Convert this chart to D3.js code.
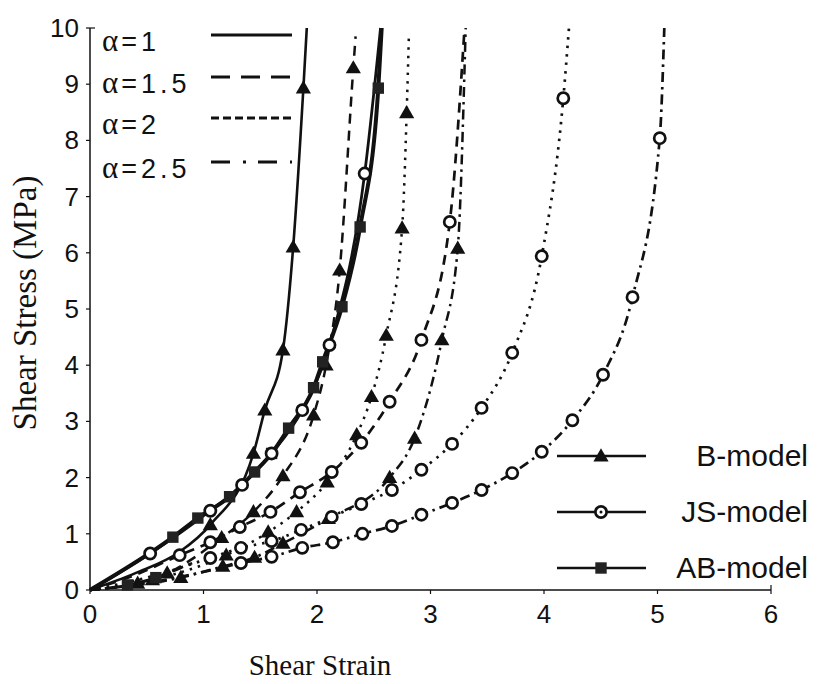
<!DOCTYPE html>
<html><head><meta charset="utf-8">
<script src="https://cdn.jsdelivr.net/npm/d3@7"></script>
<style>body{margin:0;background:#fff}svg{display:block}</style>
</head><body>
<svg id="c" width="822" height="684"></svg>
<script>
// ---- data ----
const xTicks = [0,1,2,3,4,5,6];
const yTicks = [0,1,2,3,4,5,6,7,8,9,10];
const alphaLabels = ["1","1.5","2","2.5"];
const modelLabels = ["B-model","JS-model","AB-model"];

// B-model (triangles)
const B_a1_pts  = [[1.06,1.16],[1.44,2.43],[1.54,3.2],[1.70,4.27],[1.79,6.1],[1.88,8.93]];
const B_a1_path = [[0,0],[0.4,0.3],[0.79,0.68]];
const B_a1_end  = [1.91,10];
const B_a15_pts  = [[0.42,0.12],[0.68,0.3],[1.16,0.93],[1.44,1.39],[1.70,2.03],[1.97,3.11],[2.08,4.0],[2.2,5.69],[2.32,9.29]];
const B_a15_path = [[0,0]];
const B_a15_end  = [2.34,9.85];
const B_a2_pts  = [[0.55,0.18],[1.2,0.62],[1.57,1.03],[1.82,1.39],[2.09,1.92],[2.35,2.76],[2.48,3.44],[2.61,4.53],[2.75,6.44],[2.79,8.49]];
const B_a2_path = [[0,0]];
const B_a2_end  = [2.81,9.9];
const B_a25_pts  = [[0.8,0.22],[1.17,0.42],[1.45,0.58],[1.70,0.83],[2.10,1.27],[2.64,2.0],[2.86,2.7],[3.10,4.45],[3.24,6.08]];
const B_a25_path = [[0,0]];
const B_a25_end  = [3.31,10];

// JS-model (open circles)
const JS_a1_pts  = [[0.53,0.65],[1.06,1.41],[1.34,1.87],[1.60,2.43],[1.87,3.2],[2.11,4.36],[2.42,7.41]];
const JS_a1_path = [[0,0]];
const JS_a1_end  = [2.56,10];
const JS_a15_pts  = [[0.79,0.62],[1.06,0.85],[1.32,1.12],[1.59,1.39],[1.85,1.74],[2.13,2.1],[2.39,2.62],[2.64,3.35],[2.92,4.45],[3.17,6.55]];
const JS_a15_path = [[0,0],[0.4,0.27]];
const JS_a15_end  = [3.3,10];
const JS_a2_pts  = [[1.06,0.57],[1.33,0.75],[1.60,0.87],[1.86,1.07],[2.13,1.3],[2.39,1.53],[2.66,1.78],[2.92,2.14],[3.19,2.6],[3.45,3.24],[3.72,4.22],[3.98,5.94],[4.17,8.75]];
const JS_a2_path = [[0,0],[0.5,0.22]];
const JS_a2_end  = [4.22,10];
const JS_a25_pts  = [[1.33,0.48],[1.60,0.59],[1.87,0.75],[2.14,0.85],[2.40,1.0],[2.66,1.14],[2.92,1.34],[3.19,1.55],[3.45,1.78],[3.72,2.08],[3.98,2.46],[4.25,3.02],[4.52,3.83],[4.78,5.21],[5.02,8.04]];
const JS_a25_path = [[0,0],[0.6,0.16],[1.06,0.35]];
const JS_a25_end  = [5.06,10];

// AB-model (filled squares)
const AB_a1_pts  = [[0.73,0.94],[0.95,1.28],[1.23,1.66],[1.45,2.1],[1.6,2.43],[1.75,2.88],[1.97,3.6],[2.05,4.06],[2.22,5.04],[2.38,6.46],[2.54,8.93]];
const AB_a1_path = [[0,0]];
const AB_a1_end  = [2.57,10];
const AB_a15_pts  = [[0.33,0.09],[0.58,0.22]];
const AB_a15_path = [[0,0]];
const AB_a15_end  = [0.9,0.48];

// ---- layout ----
const svg = d3.select("#c");
const x = d3.scaleLinear().domain([0,6]).range([90,771]);
const y = d3.scaleLinear().domain([0,10]).range([590,28]);
const ink = "#111";
const sans = "'Liberation Sans', Arial, sans-serif";
const serif = "'Liberation Serif', 'Times New Roman', serif";

// axes
const g = svg.append("g");
g.append("line").attr("x1",x(0)).attr("x2",x(0)).attr("y1",y(0)).attr("y2",y(10)).attr("stroke",ink).attr("stroke-width",1.5);
g.append("line").attr("x1",x(0)).attr("x2",x(6)).attr("y1",y(0)).attr("y2",y(0)).attr("stroke",ink).attr("stroke-width",1.5);
yTicks.forEach(t=>{
  g.append("line").attr("x1",x(0)-4).attr("x2",x(0)).attr("y1",y(t)).attr("y2",y(t)).attr("stroke",ink).attr("stroke-width",1.2);
  g.append("text").attr("x",79).attr("y",y(t)+9).attr("text-anchor","end")
   .attr("font-family",sans).attr("font-size",26).attr("fill",ink).text(t);
});
g.append("line").attr("x1",x(0)).attr("x2",x(0)+5).attr("y1",y(10)).attr("y2",y(10)).attr("stroke",ink).attr("stroke-width",1.2);
xTicks.forEach(t=>{
  g.append("line").attr("x1",x(t)).attr("x2",x(t)).attr("y1",y(0)).attr("y2",y(0)+4).attr("stroke",ink).attr("stroke-width",1.2);
  g.append("text").attr("x",x(t)).attr("y",623).attr("text-anchor","middle")
   .attr("font-family",sans).attr("font-size",26).attr("fill",ink).text(t);
});
g.append("line").attr("x1",x(6)).attr("x2",x(6)).attr("y1",y(0)).attr("y2",y(0)-5).attr("stroke",ink).attr("stroke-width",1.2);

svg.append("text").attr("transform","translate(36,303) rotate(-90)").attr("text-anchor","middle")
  .attr("font-family",serif).attr("font-size",33).attr("fill",ink).text("Shear Stress (MPa)");
svg.append("text").attr("x",320).attr("y",675).attr("text-anchor","middle")
  .attr("font-family",serif).attr("font-size",29).attr("fill",ink).text("Shear Strain");

// styles
const dash = {"1":null,"1.5":"10,7","2":"2.5,6","2.5":"10,5,2.5,5"};
const legendDash = {"1":null,"1.5":"19,11","2":"8,4","2.5":"19,13,3,12"};
const line = d3.line().x(d=>x(d[0])).y(d=>y(d[1])).curve(d3.curveMonotoneX);

const series = [
  {m:"B",a:"1",path:B_a1_path,pts:B_a1_pts,end:B_a1_end,w:2.6},
  {m:"B",a:"1.5",path:B_a15_path,pts:B_a15_pts,end:B_a15_end,w:2.5},
  {m:"B",a:"2",path:B_a2_path,pts:B_a2_pts,end:B_a2_end,w:2.5},
  {m:"B",a:"2.5",path:B_a25_path,pts:B_a25_pts,end:B_a25_end,w:2.5},
  {m:"JS",a:"1.5",path:JS_a15_path,pts:JS_a15_pts,end:JS_a15_end,w:2.7},
  {m:"JS",a:"2",path:JS_a2_path,pts:JS_a2_pts,end:JS_a2_end,w:2.7},
  {m:"JS",a:"2.5",path:JS_a25_path,pts:JS_a25_pts,end:JS_a25_end,w:2.7},
  {m:"AB",a:"1.5",path:AB_a15_path,pts:AB_a15_pts,end:AB_a15_end,w:2.5},
  {m:"AB",a:"1",path:AB_a1_path,pts:AB_a1_pts,end:AB_a1_end,w:4},
  {m:"JS",a:"1",path:JS_a1_path,pts:JS_a1_pts,end:JS_a1_end,w:2.8},
];

const lines = svg.append("g");
series.forEach(s=>{
  const all = s.path.concat(s.pts).concat([s.end]);
  lines.append("path").attr("d",line(all)).attr("fill","none").attr("stroke",ink)
    .attr("stroke-width",s.w).attr("stroke-dasharray",dash[s.a]);
});

const tri = d3.symbol().type(d3.symbolTriangle).size(100);
const sq = d3.symbol().type(d3.symbolSquare).size(130);
function marker(sel,m,cx,cy){
  if(m==="B") sel.append("path").attr("d",tri).attr("transform",`translate(${cx},${cy+1})`).attr("fill",ink);
  else if(m==="JS") sel.append("circle").attr("cx",cx).attr("cy",cy).attr("r",5.6).attr("fill","#fff").attr("stroke",ink).attr("stroke-width",2.7);
  else sel.append("path").attr("d",sq).attr("transform",`translate(${cx},${cy})`).attr("fill","#222");
}
const mk = svg.append("g");
series.forEach(s=>{ s.pts.forEach(p=>marker(mk,s.m,x(p[0]),y(p[1]))); });

// alpha legend
const la = svg.append("g");
const ay = [35,77,118,162];
alphaLabels.forEach((a,i)=>{
  const t = la.append("text").attr("x",102).attr("y",ay[i]+16).attr("font-size",27).attr("fill",ink);
  t.append("tspan").attr("font-family",serif).attr("font-size",31).text("α");
  t.append("tspan").attr("font-family",sans).attr("dx",3).attr("letter-spacing",4).text("="+a);
  la.append("line").attr("x1",211).attr("x2",292).attr("y1",ay[i]).attr("y2",ay[i])
    .attr("stroke",ink).attr("stroke-width",3.2).attr("stroke-dasharray",legendDash[a]);
});

// model legend
const lm = svg.append("g");
const my = [456,512,568];
["B","JS","AB"].forEach((m,i)=>{
  lm.append("line").attr("x1",557).attr("x2",646).attr("y1",my[i]).attr("y2",my[i]).attr("stroke",ink).attr("stroke-width",2.6);
  marker(lm,m,601,my[i]);
  if(m==="JS") lm.append("circle").attr("cx",601).attr("cy",my[i]).attr("r",1.5).attr("fill",ink);
  lm.append("text").attr("x",808).attr("y",my[i]+10).attr("text-anchor","end")
    .attr("font-family",sans).attr("font-size",30).attr("fill",ink).text(modelLabels[i]);
});
</script>
</body></html>
